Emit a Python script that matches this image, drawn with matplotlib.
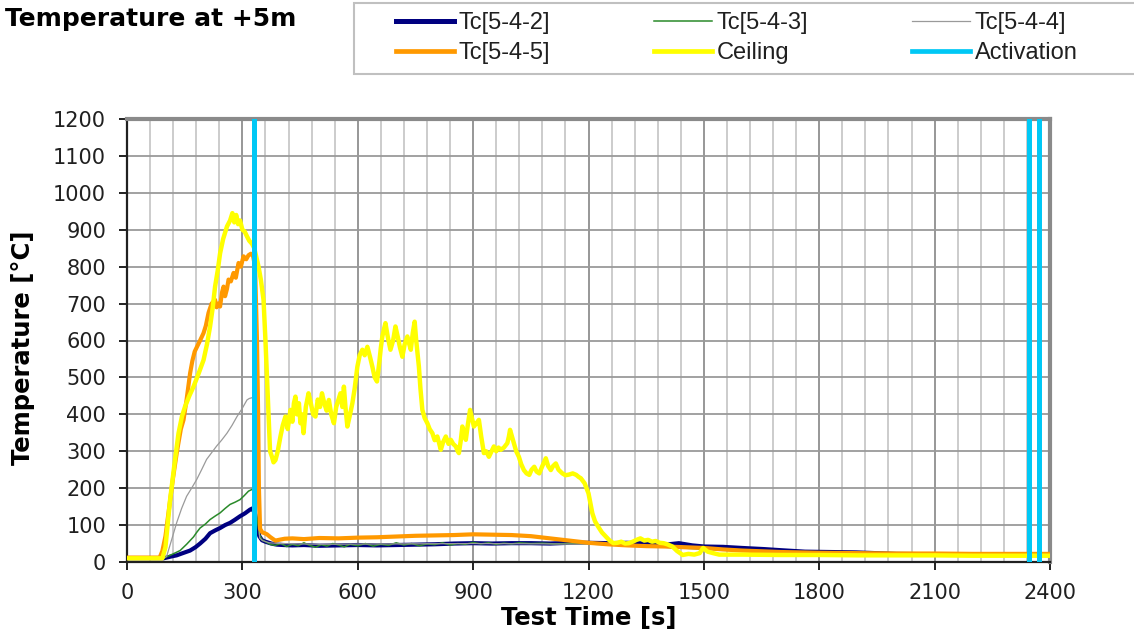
import matplotlib
matplotlib.use("Agg")
import matplotlib.pyplot as plt
from matplotlib.lines import Line2D
from matplotlib.patches import Rectangle

# Test data (time in s, temperature in degC)
t_ceiling = [0, 92, 100, 112, 124, 134, 143, 151, 162, 173, 186, 199, 208, 216, 223, 229, 236, 242,
             250, 260, 268, 274, 279, 284, 289, 294, 300, 306, 312, 318, 325, 331, 342, 348, 355,
             360, 364, 368, 372, 377, 381, 386, 392, 399, 405, 412, 418, 425, 430, 434, 438, 442,
             447, 451, 455, 459, 465, 472, 478, 484, 490, 496, 502, 507, 513, 519, 525, 531, 538,
             544, 550, 555, 560, 564, 568, 573, 580, 586, 592, 599, 605, 612, 618, 625, 632, 638,
             644, 650, 656, 660, 664, 668, 672, 678, 685, 692, 698, 704, 710, 716, 722, 729, 734,
             738, 743, 748, 752, 756, 759, 763, 768, 774, 781, 787, 794, 800, 807, 812, 816, 822,
             829, 836, 842, 848, 855, 860, 863, 868, 872, 877, 881, 886, 892, 897, 902, 908, 915,
             921, 928, 934, 941, 948, 954, 960, 966, 972, 980, 989, 993, 996, 1001, 1006, 1012,
             1019, 1025, 1032, 1039, 1046, 1052, 1059, 1065, 1072, 1080, 1089, 1095, 1102, 1108,
             1115, 1122, 1132, 1140, 1150, 1159, 1168, 1175, 1180, 1190, 1200, 1210, 1217, 1225,
             1235, 1245, 1255, 1265, 1275, 1285, 1295, 1305, 1315, 1325, 1335, 1345, 1355, 1365,
             1375, 1385, 1395, 1405, 1418, 1430, 1445, 1460, 1475, 1489, 1498, 1510, 1524, 1540,
             1600, 1700, 1800, 1900, 2000, 2100, 2200, 2300, 2400]
v_ceiling = [10, 10, 40, 168, 270, 349, 395, 421, 450, 475, 510, 547, 590, 638, 690, 746, 790, 836,
             875, 909, 925, 945, 920, 940, 915, 925, 900, 895, 882, 870, 862, 850, 800, 765, 710,
             600, 500, 394, 300, 285, 270, 276, 300, 340, 370, 394, 360, 412, 380, 430, 448, 400,
             430, 376, 400, 349, 420, 457, 430, 400, 394, 440, 420, 457, 430, 410, 439, 400, 376,
             420, 440, 457, 420, 475, 420, 367, 400, 430, 470, 529, 560, 575, 560, 583, 555, 529,
             500, 489, 540, 580, 611, 630, 647, 610, 575, 600, 638, 610, 580, 556, 590, 611, 590,
             575, 620, 651, 600, 560, 529, 470, 412, 390, 376, 360, 349, 330, 340, 320, 304, 325,
             340, 320, 331, 320, 313, 300, 295, 330, 367, 345, 331, 370, 412, 390, 367, 375, 385,
             340, 295, 300, 285, 300, 313, 300, 310, 304, 310, 322, 340, 358, 340, 322, 300,
             285, 265, 249, 240, 236, 250, 258, 245, 240, 260, 281, 260, 249, 260,
             267, 250, 240, 235, 237, 240, 236, 230, 227, 213, 186, 132, 110, 96,
             80, 69, 58, 51, 52, 55, 50, 51, 55, 60, 64, 58, 60, 55,
             57, 52, 51, 48, 42, 30, 19, 22, 20, 24, 38, 28, 24, 20,
             20, 19, 19, 18, 18, 18, 17, 17, 17]

t_tc545 = [0, 85, 92, 100, 110, 120, 130, 140, 147, 155, 164, 170, 176, 182, 190, 199, 205, 212,
           220, 229, 233, 238, 242, 247, 251, 255, 260, 264, 270, 277, 283, 290, 296, 303, 310,
           316, 322, 328, 333, 338, 341, 343, 346, 352, 358, 364, 372, 380, 386, 395, 410, 430,
           460, 500, 550, 600, 650, 700, 750, 800, 850, 900, 950, 1000, 1050, 1100, 1150, 1200,
           1250, 1300, 1350, 1400, 1450, 1500, 1550, 1600, 1650, 1700, 1800, 1900, 2000, 2100,
           2200, 2300, 2400]
v_tc545 = [12, 12, 30, 70, 150, 230, 300, 360, 385, 440, 511, 545, 570, 583, 600, 620, 640, 675,
           700, 710, 690, 700, 692, 730, 746, 720, 740, 765, 760, 783, 770, 810, 800, 828, 820,
           831, 835, 828, 800, 600, 400, 200, 90, 80, 78, 75, 68, 62, 58, 60, 63, 64,
           62, 65, 64, 66, 67, 69, 71, 72, 73, 75, 74, 73, 70, 64, 58, 52,
           48, 45, 43, 42, 40, 38, 34, 31, 29, 27, 25, 24, 23, 23,
           22, 22, 22]

t_tc542 = [0, 95, 103, 115, 129, 145, 164, 178, 190, 204, 216, 230, 242, 255, 268, 280, 294, 307,
           320, 326, 333, 338, 344, 351, 360, 375, 390, 407, 430, 460, 500, 550, 600, 650, 700,
           750, 800, 850, 900, 950, 1000, 1050, 1100, 1150, 1200, 1250, 1300, 1350, 1400, 1435,
           1470, 1500, 1550, 1600, 1656, 1700, 1763, 1830, 1896, 2000, 2100, 2200, 2300, 2400]
v_tc542 = [10, 10, 12, 15, 18, 24, 31, 40, 50, 63, 78, 86, 92, 100, 106, 114, 124, 132,
           142, 145, 130, 100, 70, 59, 55, 50, 47, 46, 45, 46, 44, 45, 46, 45, 46,
           47, 48, 50, 51, 50, 51, 51, 50, 52, 52, 51, 52, 50, 47, 51,
           45, 42, 41, 38, 35, 32, 28, 27, 26, 22, 21, 20, 20, 20]

t_tc543 = [0, 95, 105, 120, 138, 155, 173, 181, 190, 204, 216, 230, 242, 255, 268, 281, 294, 305,
           316, 322, 328, 333, 338, 344, 351, 360, 372, 385, 400, 415, 430, 445, 460, 475, 490,
           505, 520, 535, 550, 565, 580, 600, 620, 640, 660, 680, 700, 720, 740, 760, 780, 800,
           820, 840, 860, 880, 900, 920, 940, 960, 980, 1000, 1020, 1050, 1080, 1110, 1140, 1170,
           1200, 1250, 1300, 1350, 1400, 1500, 1600, 1700, 1800, 2000, 2200, 2400]
v_tc543 = [10, 10, 15, 22, 31, 48, 68, 80, 92, 103, 115, 125, 133, 145, 156, 162, 169, 180,
           192, 195, 198, 160, 120, 75, 60, 55, 48, 45, 50, 42, 48, 44, 52, 45, 40,
           47, 43, 50, 46, 41, 48, 44, 50, 43, 48, 45, 52, 46, 50, 44, 49, 47,
           52, 46, 50, 48, 53, 49, 52, 48, 51, 49, 52, 50, 51, 49, 50, 50,
           49, 48, 46, 43, 40, 35, 30, 27, 24, 22, 20, 19]

t_tc544 = [0, 95, 103, 116, 129, 142, 155, 168, 181, 194, 207, 220, 233, 246, 260, 273, 286, 299,
           312, 318, 325, 330, 335, 340, 345, 352, 370, 400, 500, 700, 900, 1100, 1300, 1500,
           1700, 1900, 2100, 2400]
v_tc544 = [10, 10, 15, 60, 106, 145, 178, 200, 223, 250, 278, 296, 314, 330, 349, 370, 394, 415,
           439, 443, 445, 440, 300, 150, 65, 58, 52, 50, 48, 49, 50, 49, 47, 38,
           28, 24, 21, 19]

activation_times = [331, 2345, 2371]

series = [
    ("Tc[5-4-2]", t_tc542, v_tc542, "#000080", 3.0),
    ("Tc[5-4-3]", t_tc543, v_tc543, "#2a8a2a", 1.1),
    ("Tc[5-4-4]", t_tc544, v_tc544, "#9a9a9a", 0.9),
    ("Tc[5-4-5]", t_tc545, v_tc545, "#ff9900", 3.0),
    ("Ceiling", t_ceiling, v_ceiling, "#ffff00", 3.2),
]
act_color = "#00c8f5"

W, H = 1134, 636
fig = plt.figure(figsize=(W / 100, H / 100), dpi=100)
ax = fig.add_axes([127 / W, 1 - 562 / H, 923 / W, 443 / H])

for name, t, v, col, lw in series:
    ax.plot(t, v, color=col, lw=lw, solid_capstyle="butt", zorder=3)
for ta in activation_times:
    ax.axvline(ta, color=act_color, lw=3.6, zorder=5)

ax.set_xlim(0, 2400)
ax.set_ylim(0, 1200)
ax.set_xticks(range(0, 2401, 300))
ax.set_xticks(range(0, 2401, 60), minor=True)
ax.set_yticks(range(0, 1201, 100))

# grid: light minor verticals, darker majors
ax.grid(which="minor", axis="x", color="#c8c8c8", lw=1.3, zorder=0)
ax.grid(which="major", axis="x", color="#8f8f8f", lw=1.3, zorder=1)
ax.grid(which="major", axis="y", color="#9a9a9a", lw=1.3, zorder=1)
ax.set_axisbelow(True)

for s in ("left", "bottom"):
    ax.spines[s].set_color("#202020")
    ax.spines[s].set_linewidth(1.6)
for s in ("top", "right"):
    ax.spines[s].set_color("#8a8a8a")
    ax.spines[s].set_linewidth(3.0)

ax.tick_params(which="major", direction="out", length=6, width=1.4, color="#202020",
               labelsize=15, labelcolor="#202020", pad=9)
ax.tick_params(which="minor", length=0)
for lab in ax.get_xticklabels() + ax.get_yticklabels():
    lab.set_family("DejaVu Sans")

ax.set_xlabel("Test Time [s]", fontsize=17.5, fontweight="bold", family="DejaVu Sans")
ax.set_ylabel("Temperature [°C]", fontsize=17.5, fontweight="bold", family="DejaVu Sans")
ax.xaxis.set_label_coords(0.5, -(606 - 562) / 443)
ax.yaxis.set_label_coords(-(127 - 35) / 923, (562 - 348) / 443)

fig.text(5 / W, 1 - 19 / H, "Temperature at +5m", fontsize=18, fontweight="bold",
         family="DejaVu Sans", va="center", ha="left")

# legend frame, running off the right edge like the original
fig.patches.append(Rectangle((354 / W, 1 - 74 / H), 800 / W, 71 / H, transform=fig.transFigure,
                             facecolor="white", edgecolor="#c0c0c0", lw=1.5))
handles = []
for name, t, v, col, lw in series[:3]:
    handles.append(Line2D([], [], color=col, lw=lw + 0.6 if lw > 2 else lw, label=name))
handles.append(Line2D([], [], color=series[3][3], lw=3.4, label=series[3][0]))
handles.append(Line2D([], [], color=series[4][3], lw=3.4, label=series[4][0]))
handles.append(Line2D([], [], color=act_color, lw=3.4, label="Activation"))
order = [0, 3, 1, 4, 2, 5]
leg = fig.legend([handles[i] for i in order], [handles[i].get_label() for i in order],
                 ncol=3, loc="upper left", bbox_to_anchor=(396 / W, 1 - 12 / H), frameon=False,
                 handlelength=2.45, handletextpad=0.2, columnspacing=4.4,
                 labelspacing=0.35, borderpad=0, borderaxespad=0,
                 prop={"family": "Liberation Sans", "size": 17})
for txt in leg.get_texts():
    txt.set_color("#202020")

fig.savefig("out.png", dpi=100)
